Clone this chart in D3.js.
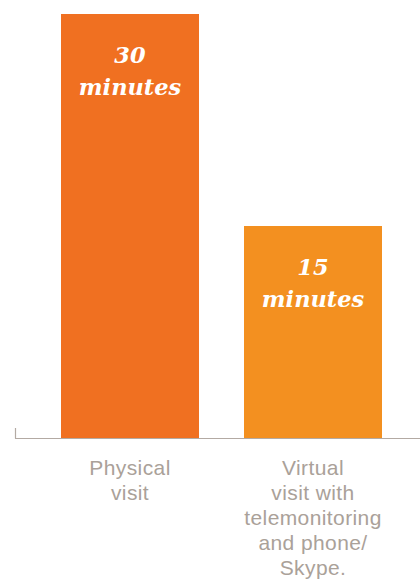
<!DOCTYPE html>
<html>
<head>
<meta charset="utf-8">
<script src="https://cdn.jsdelivr.net/npm/d3@7/dist/d3.min.js"></script>
<style>
  html, body { margin: 0; padding: 0; background: #ffffff; }
  svg { display: block; }
</style>
</head>
<body>
<script>
// Average time spent per visit, in minutes
const categories = ["Physical visit", "Virtual visit with telemonitoring and phone/ Skype."];
const categoryLines = [
  ["Physical", "visit"],
  ["Virtual", "visit with", "telemonitoring", "and phone/", "Skype."]
];
const minutes = [30, 15];
const valueUnit = "minutes";
const barColors = ["#F07021", "#F39020"];

const W = 420, H = 579;
const svg = d3.select("body").append("svg").attr("width", W).attr("height", H);

const x = d3.scaleBand().domain(categories).range([15.25, 427.75]).paddingInner(0.2459).paddingOuter(0.25);
const y = d3.scaleLinear().domain([0, 30]).range([438, 14]);

// bars
svg.selectAll("rect.bar").data(minutes).join("rect")
  .attr("class", "bar")
  .attr("x", (d, i) => x(categories[i]))
  .attr("y", d => y(d))
  .attr("width", x.bandwidth())
  .attr("height", d => y(0) - y(d))
  .attr("fill", (d, i) => barColors[i]);

// baseline with small end tick
const axisColor = "#b3aaa3";
svg.append("line").attr("x1", 15).attr("x2", W).attr("y1", y(0) + 0.5).attr("y2", y(0) + 0.5)
  .attr("stroke", axisColor).attr("stroke-width", 1.2);
svg.append("line").attr("x1", 15.5).attr("x2", 15.5).attr("y1", y(0) - 10).attr("y2", y(0) + 0.5)
  .attr("stroke", axisColor).attr("stroke-width", 1.2);

// value labels inside bars
const valueLabels = svg.selectAll("g.value").data(minutes).join("g")
  .attr("class", "value")
  .attr("transform", (d, i) => `translate(${x(categories[i]) + x.bandwidth() / 2},${y(d)})`);
valueLabels.each(function (d) {
  const g = d3.select(this);
  [String(d), valueUnit].forEach((t, k) => {
    g.append("text")
      .attr("y", 49 + k * 32)
      .attr("text-anchor", "middle")
      .attr("fill", "#ffffff")
      .style("font-family", "'DejaVu Serif', Georgia, serif")
      .style("font-weight", "bold")
      .style("font-style", "italic")
      .style("font-size", "22.5px")
      .text(t);
  });
});

// category labels under the axis
const catLabels = svg.selectAll("text.cat").data(categories).join("text")
  .attr("class", "cat")
  .attr("text-anchor", "middle")
  .attr("fill", "#aaa199")
  .style("font-family", "'Liberation Sans', Arial, Helvetica, sans-serif")
  .style("font-size", "21px")
  .style("letter-spacing", "0.4px")
  .attr("transform", d => `translate(${x(d) + x.bandwidth() / 2},0)`);
catLabels.each(function (d, i) {
  d3.select(this).selectAll("tspan").data(categoryLines[i]).join("tspan")
    .attr("x", 0)
    .attr("y", (t, k) => 475 + k * 25)
    .text(t => t);
});
</script>
</body>
</html>
